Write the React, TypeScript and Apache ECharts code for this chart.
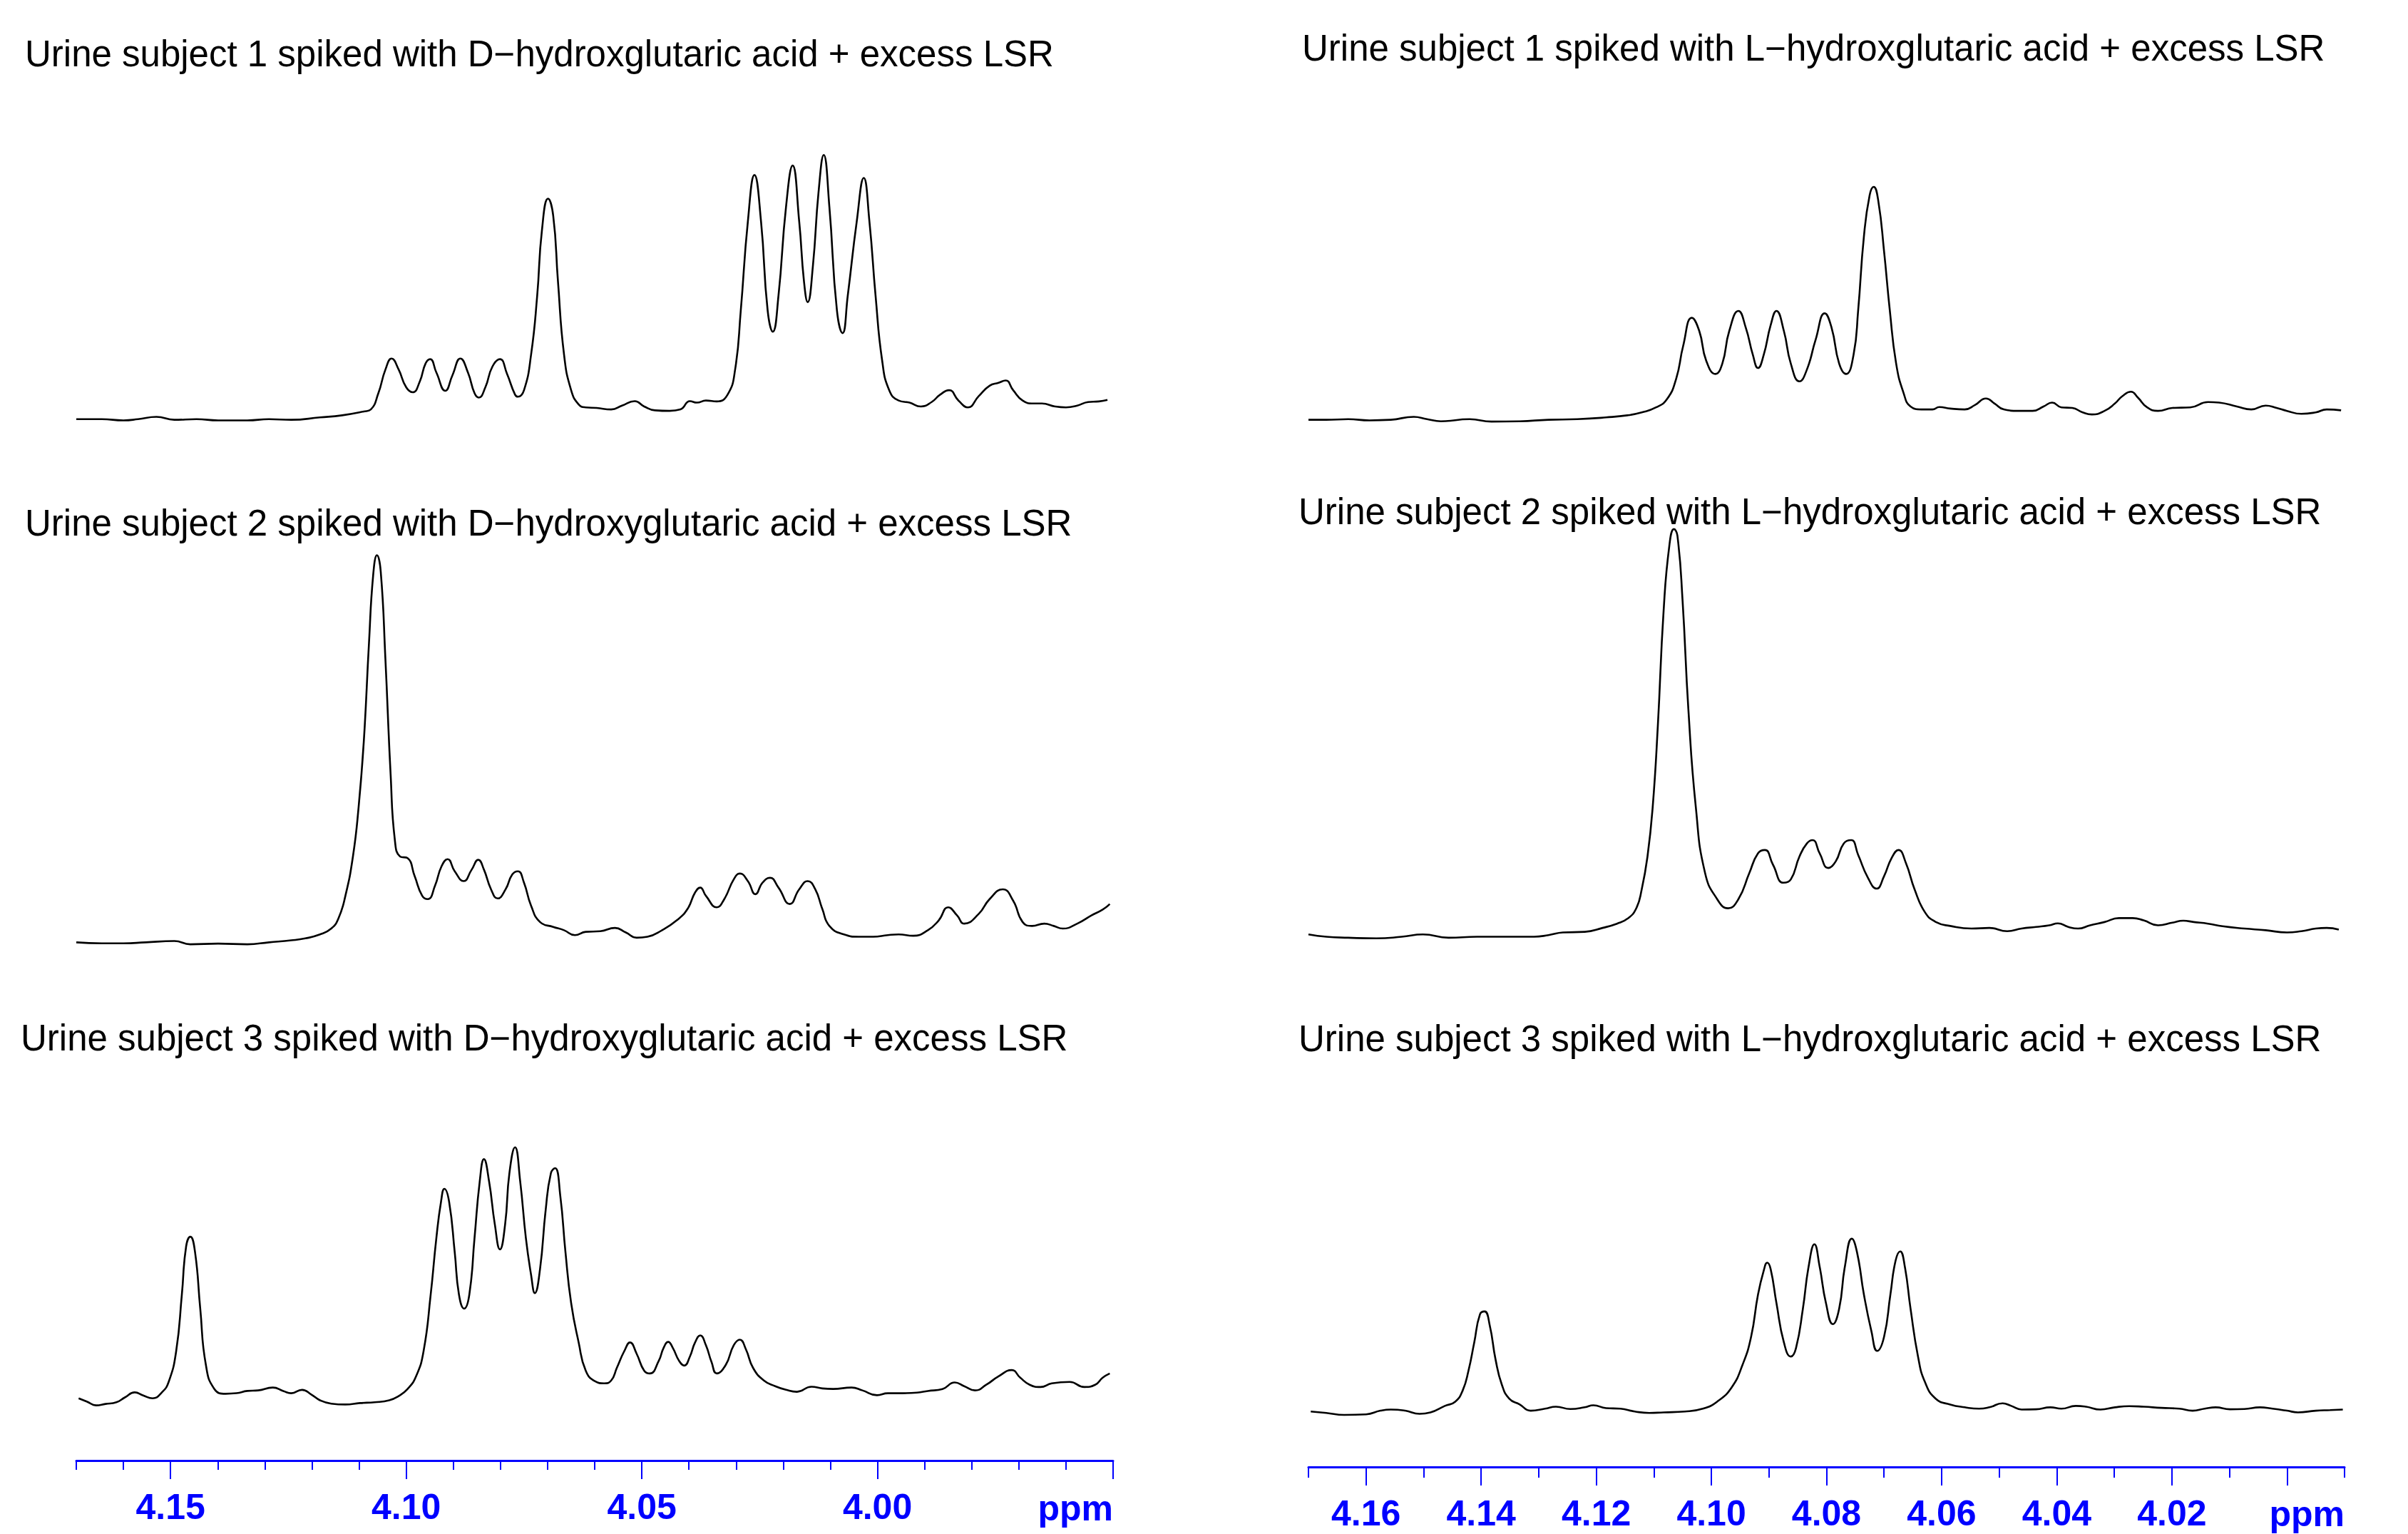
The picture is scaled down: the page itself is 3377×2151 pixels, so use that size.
import React, { useEffect, useRef } from "react";
import * as echarts from "echarts";

// ---------- text ----------
const leftTitles = [
  "Urine subject 1 spiked with D\u2212hydroxglutaric acid + excess LSR",
  "Urine subject 2 spiked with D\u2212hydroxyglutaric acid + excess LSR",
  "Urine subject 3 spiked with D\u2212hydroxyglutaric acid + excess LSR",
];
const rightTitles = [
  "Urine subject 1 spiked with L\u2212hydroxglutaric acid + excess LSR",
  "Urine subject 2 spiked with L\u2212hydroxglutaric acid + excess LSR",
  "Urine subject 3 spiked with L\u2212hydroxglutaric acid + excess LSR",
];
const unitLabel = "ppm";

// ---------- axes ----------
const leftRange = [3.95, 4.17];
const rightRange = [3.99, 4.17];
const leftMajorTicks = [4.15, 4.1, 4.05, 4.0, 3.95];
const leftMinorTicks = [4.17, 4.16, 4.14, 4.13, 4.12, 4.11, 4.09, 4.08, 4.07, 4.06, 4.04, 4.03, 4.02, 4.01, 3.99, 3.98, 3.97, 3.96];
const leftTickLabels = [4.15, 4.1, 4.05, 4.0];
const rightMajorTicks = [4.16, 4.14, 4.12, 4.1, 4.08, 4.06, 4.04, 4.02, 4.0];
const rightMinorTicks = [4.17, 4.15, 4.13, 4.11, 4.09, 4.07, 4.05, 4.03, 4.01, 3.99];
const rightTickLabels = [4.16, 4.14, 4.12, 4.1, 4.08, 4.06, 4.04, 4.02];

// ---------- spectra: [chemical shift (ppm), intensity (a.u.)] ----------
const dSubject1: [number, number][] = [
  [4.17, 22], [4.1646, 22], [4.16, 18], [4.1569, 22], [4.153, 30], [4.1492, 20], [4.1445, 22], [4.1399, 18], [4.1337, 18], [4.1291, 22],
  [4.1244, 20], [4.1183, 28], [4.1136, 35], [4.109, 48], [4.1075, 55], [4.1059, 110], [4.1044, 190], [4.1031, 227], [4.1016, 190], [4.1, 130],
  [4.0986, 113], [4.0971, 150], [4.0959, 210], [4.0949, 225], [4.0936, 180], [4.0917, 118], [4.0902, 170], [4.0885, 227], [4.0869, 180], [4.0855, 110],
  [4.0846, 95], [4.0832, 130], [4.0817, 200], [4.0801, 225], [4.0786, 175], [4.0769, 105], [4.0763, 98], [4.075, 120], [4.0735, 240], [4.0722, 440],
  [4.0712, 660], [4.0699, 768], [4.0688, 710], [4.0678, 490], [4.0665, 240], [4.065, 120], [4.0634, 72], [4.0619, 62], [4.0596, 60], [4.0565, 55],
  [4.0542, 68], [4.0515, 83], [4.0495, 65], [4.0472, 52], [4.0441, 50], [4.0418, 55], [4.0398, 83], [4.0383, 78], [4.0364, 85], [4.0341, 82],
  [4.0318, 105], [4.0302, 190], [4.029, 390], [4.0275, 690], [4.0261, 848], [4.0247, 690], [4.0233, 390], [4.0222, 318], [4.021, 440], [4.0194, 740],
  [4.018, 880], [4.0166, 690], [4.0156, 490], [4.0148, 418], [4.0137, 540], [4.0125, 790], [4.0114, 916], [4.0102, 740], [4.0086, 390], [4.0074, 313],
  [4.0063, 440], [4.0044, 690], [4.0029, 838], [4.0017, 690], [4.0004, 440], [3.999, 220], [3.9975, 120], [3.9955, 85], [3.9932, 78], [3.9908, 65],
  [3.9885, 80], [3.9867, 105], [3.9848, 120], [3.9828, 85], [3.9808, 62], [3.9785, 100], [3.9762, 135], [3.9743, 145], [3.9728, 153], [3.9712, 120],
  [3.9692, 85], [3.9669, 75], [3.9651, 75], [3.9623, 65], [3.96, 62], [3.9576, 68], [3.9553, 80], [3.953, 82], [3.9512, 87],
];

const lSubject1: [number, number][] = [
  [4.17, 20], [4.1669, 20], [4.1631, 22], [4.1594, 18], [4.1557, 20], [4.1517, 30], [4.1494, 22], [4.147, 15], [4.142, 22], [4.1382, 14],
  [4.1333, 15], [4.1283, 20], [4.1233, 22], [4.1183, 28], [4.1146, 35], [4.1121, 45], [4.1096, 62], [4.1077, 90], [4.1061, 160], [4.1049, 270],
  [4.1034, 365], [4.1021, 320], [4.1009, 220], [4.0993, 175], [4.0981, 210], [4.0969, 320], [4.0953, 388], [4.094, 330], [4.0928, 240], [4.0919, 195],
  [4.0909, 240], [4.0897, 340], [4.0887, 388], [4.0874, 320], [4.0862, 210], [4.0847, 150], [4.0834, 190], [4.0819, 290], [4.0803, 380], [4.0791, 330],
  [4.0778, 210], [4.0766, 175], [4.0753, 240], [4.0745, 390], [4.0735, 640], [4.0725, 780], [4.0718, 808], [4.071, 760], [4.07, 590], [4.069, 390],
  [4.0679, 210], [4.0666, 110], [4.0654, 65], [4.0635, 55], [4.0616, 55], [4.0604, 63], [4.0585, 58], [4.056, 55], [4.0542, 70], [4.0523, 92],
  [4.0508, 75], [4.0492, 55], [4.0467, 50], [4.0442, 50], [4.0423, 65], [4.0408, 78], [4.0392, 62], [4.0373, 60], [4.0355, 45], [4.0339, 38],
  [4.0317, 50], [4.0299, 75], [4.0286, 100], [4.0271, 115], [4.0259, 95], [4.0243, 62], [4.0224, 50], [4.0199, 60], [4.0168, 62], [4.0137, 80],
  [4.0118, 78], [4.0087, 65], [4.0062, 55], [4.0037, 68], [4.0018, 60], [4.0, 50], [3.9975, 40], [3.995, 45], [3.9931, 55], [3.9906, 52],
];

const dSubject2: [number, number][] = [
  [4.17, 18], [4.1646, 15], [4.16, 15], [4.1553, 18], [4.1492, 22], [4.1458, 12], [4.1399, 14], [4.1337, 12], [4.1291, 18], [4.1244, 24],
  [4.1214, 30], [4.1183, 42], [4.1159, 60], [4.1144, 90], [4.1129, 160], [4.1113, 280], [4.1101, 430], [4.109, 630], [4.1079, 930], [4.107, 1140],
  [4.1062, 1200], [4.1054, 1150], [4.1044, 880], [4.1033, 530], [4.1024, 330], [4.1013, 280], [4.0997, 275], [4.0982, 220], [4.0966, 160], [4.0954, 150],
  [4.0939, 190], [4.0925, 250], [4.0912, 272], [4.0897, 235], [4.0878, 205], [4.0861, 240], [4.0847, 270], [4.0835, 240], [4.082, 180], [4.0806, 152],
  [4.0789, 180], [4.0775, 225], [4.0763, 235], [4.075, 200], [4.0735, 130], [4.0716, 80], [4.0688, 65], [4.0665, 55], [4.0642, 40], [4.0619, 50],
  [4.0588, 52], [4.0557, 62], [4.0534, 48], [4.0511, 32], [4.0488, 35], [4.0457, 55], [4.0426, 85], [4.0403, 120], [4.0387, 170], [4.0376, 185],
  [4.0364, 160], [4.0341, 125], [4.0325, 150], [4.0305, 210], [4.0292, 228], [4.0275, 205], [4.0259, 165], [4.0244, 200], [4.0228, 215], [4.021, 185],
  [4.0186, 135], [4.0166, 180], [4.0148, 205], [4.0132, 180], [4.0117, 120], [4.0102, 68], [4.0071, 42], [4.004, 35], [4.0009, 35], [3.9978, 40],
  [3.9955, 42], [3.9924, 38], [3.9893, 55], [3.987, 85], [3.985, 125], [3.9831, 100], [3.9816, 75], [3.9785, 105], [3.9762, 150], [3.9734, 180],
  [3.9712, 145], [3.9692, 80], [3.9672, 68], [3.9646, 75], [3.9626, 68], [3.9607, 60], [3.9576, 75], [3.9546, 100], [3.9522, 118], [3.9507, 135],
];

const lSubject2: [number, number][] = [
  [4.17, 42], [4.1669, 35], [4.1631, 32], [4.1582, 30], [4.1538, 35], [4.1501, 42], [4.1457, 32], [4.1407, 35], [4.1357, 35], [4.1308, 35],
  [4.1283, 40], [4.1258, 48], [4.122, 50], [4.1189, 62], [4.1164, 75], [4.1146, 90], [4.1131, 120], [4.1121, 180], [4.1111, 280], [4.1102, 430],
  [4.1093, 680], [4.1083, 1030], [4.1073, 1230], [4.1065, 1280], [4.1059, 1260], [4.105, 1060], [4.104, 730], [4.1027, 430], [4.1011, 230], [4.099, 150],
  [4.0971, 122], [4.0953, 150], [4.0934, 230], [4.0919, 290], [4.0907, 300], [4.0893, 255], [4.0875, 200], [4.0862, 210], [4.0847, 280], [4.0834, 320],
  [4.0824, 330], [4.0812, 290], [4.0797, 245], [4.0784, 265], [4.077, 320], [4.0757, 330], [4.0745, 285], [4.0728, 215], [4.0713, 182], [4.07, 220],
  [4.0687, 275], [4.0675, 300], [4.0662, 260], [4.0647, 180], [4.0629, 110], [4.061, 80], [4.0585, 68], [4.0548, 60], [4.0517, 62], [4.0486, 52],
  [4.0461, 60], [4.0436, 65], [4.0413, 70], [4.0398, 76], [4.038, 65], [4.0363, 60], [4.0342, 70], [4.0317, 80], [4.0292, 92], [4.0268, 92],
  [4.0249, 85], [4.0224, 70], [4.0199, 78], [4.018, 84], [4.0162, 80], [4.0137, 75], [4.0112, 67], [4.0074, 60], [4.0037, 55], [4.0, 48],
  [3.9975, 52], [3.995, 60], [3.9931, 62], [3.991, 57],
];

const dSubject3: [number, number][] = [
  [4.1695, 42], [4.1677, 30], [4.1658, 17], [4.1638, 22], [4.1615, 28], [4.1597, 45], [4.1576, 63], [4.1558, 52], [4.1538, 42], [4.1519, 62],
  [4.1504, 100], [4.1488, 210], [4.1476, 410], [4.1467, 580], [4.1458, 615], [4.1448, 560], [4.1437, 360], [4.1425, 160], [4.1407, 75], [4.1383, 58],
  [4.136, 60], [4.1337, 68], [4.1314, 70], [4.1283, 80], [4.126, 67], [4.1244, 60], [4.1221, 72], [4.1201, 55], [4.1183, 35], [4.1159, 23],
  [4.1129, 20], [4.1098, 25], [4.1067, 28], [4.1036, 35], [4.1016, 50], [4.0997, 75], [4.0979, 120], [4.0963, 210], [4.0948, 410], [4.0936, 610],
  [4.0926, 740], [4.0919, 785], [4.0909, 740], [4.0897, 560], [4.0888, 410], [4.0877, 360], [4.0866, 410], [4.0855, 610], [4.0844, 810], [4.0835, 890],
  [4.0824, 810], [4.0812, 660], [4.0801, 570], [4.079, 660], [4.0781, 840], [4.0769, 932], [4.0758, 810], [4.0746, 610], [4.0735, 480], [4.0727, 415],
  [4.0716, 500], [4.0704, 710], [4.0693, 840], [4.0684, 858], [4.0673, 760], [4.0662, 560], [4.065, 380], [4.0634, 240], [4.0619, 140], [4.0599, 102],
  [4.058, 95], [4.0565, 105], [4.0553, 150], [4.0537, 210], [4.0525, 240], [4.0511, 200], [4.0495, 140], [4.0483, 130], [4.0464, 175], [4.0454, 220],
  [4.0444, 242], [4.0434, 220], [4.0421, 175], [4.041, 158], [4.0398, 190], [4.0387, 240], [4.0376, 265], [4.0364, 230], [4.0352, 170], [4.0341, 130],
  [4.0322, 160], [4.0305, 230], [4.0292, 250], [4.0279, 215], [4.0264, 150], [4.0241, 105], [4.0217, 85], [4.0194, 72], [4.0171, 65], [4.014, 83],
  [4.0117, 77], [4.0094, 75], [4.0055, 80], [4.0032, 70], [4.0001, 53], [3.9978, 60], [3.9947, 60], [3.9916, 62], [3.9893, 68], [3.9862, 75],
  [3.9836, 98], [3.9816, 85], [3.9793, 70], [3.9769, 90], [3.9743, 120], [3.9715, 142], [3.9697, 115], [3.9677, 90], [3.9654, 82], [3.963, 95],
  [3.9592, 100], [3.9561, 82], [3.9538, 90], [3.9522, 115], [3.9507, 130],
];

const lSubject3: [number, number][] = [
  [4.1696, 15], [4.1669, 10], [4.1638, 3], [4.16, 5], [4.1575, 18], [4.1557, 22], [4.1532, 18], [4.1507, 7], [4.1488, 12], [4.1463, 35],
  [4.1445, 50], [4.1432, 90], [4.1422, 160], [4.1412, 260], [4.1402, 360], [4.1394, 370], [4.1385, 320], [4.1375, 200], [4.1364, 110], [4.1351, 60],
  [4.1333, 40], [4.1314, 18], [4.1289, 25], [4.127, 32], [4.1245, 24], [4.122, 30], [4.1205, 37], [4.1183, 27], [4.1158, 25], [4.1133, 15],
  [4.1108, 10], [4.1083, 12], [4.1046, 15], [4.1015, 25], [4.099, 50], [4.0965, 100], [4.0946, 180], [4.0931, 280], [4.0919, 430], [4.0909, 515],
  [4.0903, 543], [4.0897, 520], [4.0887, 400], [4.0874, 260], [4.0862, 210], [4.0853, 240], [4.0841, 380], [4.0831, 530], [4.0821, 608], [4.0812, 530],
  [4.0801, 400], [4.0789, 325], [4.0778, 380], [4.0768, 530], [4.0756, 628], [4.0747, 580], [4.0735, 430], [4.0722, 300], [4.0712, 230], [4.07, 280],
  [4.0689, 430], [4.068, 550], [4.0672, 583], [4.0664, 530], [4.0654, 380], [4.0641, 210], [4.0629, 120], [4.061, 60], [4.0585, 40], [4.056, 30],
  [4.0535, 25], [4.0517, 30], [4.0494, 44], [4.0479, 35], [4.0461, 22], [4.0436, 23], [4.0411, 30], [4.0392, 25], [4.0367, 35], [4.0349, 32],
  [4.0324, 22], [4.0299, 30], [4.0274, 34], [4.0249, 32], [4.0218, 28], [4.0187, 25], [4.0164, 18], [4.0143, 25], [4.0124, 30], [4.0099, 23],
  [4.0074, 24], [4.0047, 30], [4.0025, 25], [4.0, 18], [3.9981, 12], [3.995, 18], [3.9925, 20], [3.9903, 22],
];

// ---------- layout (pixels) ----------
const COLS = [
  { left: 107, width: 1454, range: leftRange },
  { left: 1835, width: 1453, range: rightRange },
];
const PANELS = [
  { data: dSubject1, col: 0, top: 165.8, height: 431.1, ymax: 1040, title: leftTitles[0], tx: 35, ty: 75 },
  { data: lSubject1, col: 1, top: 165.8, height: 431.1, ymax: 1040, title: rightTitles[0], tx: 1826, ty: 67 },
  { data: dSubject2, col: 0, top: 741.8, height: 587.8, ymax: 1280, title: leftTitles[1], tx: 35, ty: 733 },
  { data: lSubject2, col: 1, top: 718.9, height: 610.7, ymax: 1330, title: rightTitles[1], tx: 1821, ty: 717 },
  { data: dSubject3, col: 0, top: 1558.2, height: 419.1, ymax: 1060, title: leftTitles[2], tx: 29, ty: 1455 },
  { data: lSubject3, col: 1, top: 1676.8, height: 308.4, ymax: 780, title: rightTitles[2], tx: 1821, ty: 1456 },
];

const BLUE = "#0000ff";
const FONT = "'Liberation Sans', Arial, Helvetica, sans-serif";

export default function App() {
  const ref = useRef<HTMLDivElement>(null);

  useEffect(() => {
    if (!ref.current) return;
    const chart = echarts.init(ref.current, undefined, { renderer: "svg" });

    const grid = PANELS.map((p) => ({
      left: COLS[p.col].left,
      width: COLS[p.col].width,
      top: p.top,
      height: p.height,
      containLabel: false,
    }));

    const xAxis: any[] = PANELS.map((p, i) => {
      const col = COLS[p.col];
      const isBottom = i >= 4;
      const base: any = {
        type: "value",
        gridIndex: i,
        min: col.range[0],
        max: col.range[1],
        inverse: true,
        splitLine: { show: false },
      };
      if (!isBottom) return { ...base, show: false };
      const left = p.col === 0;
      return {
        ...base,
        position: "bottom",
        offset: left ? 70.7 : 71.8,
        axisLine: { show: true, onZero: false, lineStyle: { color: BLUE, width: 3 } },
        axisTick: {
          show: true,
          customValues: left ? leftMajorTicks : rightMajorTicks,
          length: 26,
          lineStyle: { color: BLUE, width: 2 },
        },
        axisLabel: {
          show: true,
          customValues: left ? leftTickLabels : rightTickLabels,
          formatter: (v: number) => v.toFixed(2),
          color: BLUE,
          fontWeight: "bold",
          fontSize: 50,
          fontFamily: FONT,
          margin: 40,
        },
      };
    });
    // minor-tick axes for the two bottom panels
    [4, 5].forEach((gi) => {
      const left = gi === 4;
      const col = COLS[left ? 0 : 1];
      xAxis.push({
        type: "value",
        gridIndex: gi,
        min: col.range[0],
        max: col.range[1],
        inverse: true,
        position: "bottom",
        offset: left ? 70.7 : 71.8,
        splitLine: { show: false },
        axisLine: { show: false, onZero: false },
        axisLabel: { show: false },
        axisTick: {
          show: true,
          customValues: left ? leftMinorTicks : rightMinorTicks,
          length: left ? 13 : 15,
          lineStyle: { color: BLUE, width: 2 },
        },
      });
    });

    const yAxis = PANELS.map((p, i) => ({
      type: "value",
      gridIndex: i,
      min: 0,
      max: p.ymax,
      show: false,
    }));

    const series = PANELS.map((p, i) => ({
      type: "line",
      xAxisIndex: i,
      yAxisIndex: i,
      data: p.data,
      showSymbol: false,
      symbol: "none",
      smooth: 0.5,
      lineStyle: { color: "#000", width: 2.6 },
      silent: true,
    }));

    const graphic: any[] = PANELS.map((p) => ({
      type: "text",
      x: p.tx,
      y: p.ty,
      style: {
        text: p.title,
        fill: "#000",
        fontSize: 51,
        fontFamily: FONT,
        textAlign: "left",
        textVerticalAlign: "middle",
        align: "left",
        verticalAlign: "middle",
      },
    }));
    graphic.push(
      {
        type: "text",
        x: 1561,
        y: 2115,
        style: {
          text: unitLabel, fill: BLUE, fontSize: 50, fontWeight: "bold", fontFamily: FONT,
          textAlign: "right", textVerticalAlign: "middle", align: "right", verticalAlign: "middle",
        },
      },
      {
        type: "text",
        x: 3288,
        y: 2123,
        style: {
          text: unitLabel, fill: BLUE, fontSize: 50, fontWeight: "bold", fontFamily: FONT,
          textAlign: "right", textVerticalAlign: "middle", align: "right", verticalAlign: "middle",
        },
      }
    );

    chart.setOption({
      animation: false,
      backgroundColor: "#ffffff",
      grid,
      xAxis,
      yAxis,
      series,
      graphic,
    });

    return () => chart.dispose();
  }, []);

  return (
    <div
      ref={ref}
      style={{ position: "absolute", left: 0, top: 0, width: 3377, height: 2151 }}
    />
  );
}
